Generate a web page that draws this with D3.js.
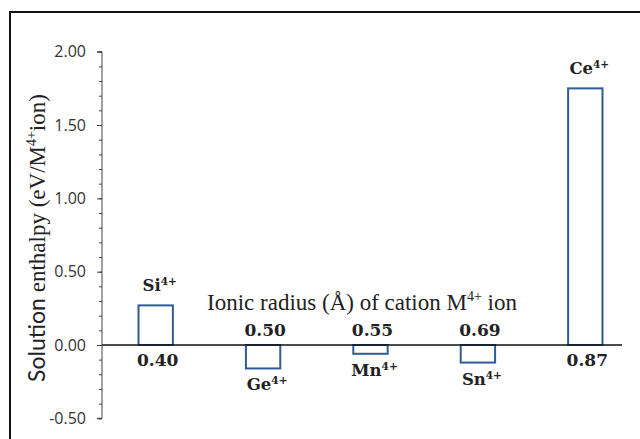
<!DOCTYPE html>
<html><head><meta charset="utf-8">
<script src="https://cdn.jsdelivr.net/npm/d3@7"></script>
<style>body{margin:0;background:#fff}svg{display:block}</style>
</head><body>
<svg id="c" width="640" height="439"></svg>
<script>
const ions = ["Si", "Ge", "Mn", "Sn", "Ce"];
const radii = ["0.40", "0.50", "0.55", "0.69", "0.87"];
const enthalpy = [0.27, -0.16, -0.06, -0.12, 1.75];
const yTicks = [-0.5, 0, 0.5, 1.0, 1.5, 2.0];
const yMinorTicks = d3.range(-0.5, 2.0001, 0.1);
const yTitle = ["Solution ", "enthalpy (eV/M", "4+", "ion)"];
const xTitle = ["Ionic radius (Å) of cation M", "4+", " ion"];

(function () {
const svg = d3.select("#c");
const pLeft = 102, pRight = 639, pTop = 51.7, pBottom = 418.3;
const x = d3.scaleBand().domain(ions).range([pLeft, pRight]).paddingInner(0.68).paddingOuter(0.34);
const y = d3.scaleLinear().domain([-0.5, 2.0]).range([pBottom, pTop]);
const fmt = v => d3.format(".2f")(v).replace("−", "-");

// frame
svg.append("rect").attr("x", 10).attr("y", 12).attr("width", 700).attr("height", 500)
  .attr("fill", "none").attr("stroke", "#111").attr("stroke-width", 2);

// y axis minor ticks
const gy = svg.append("g").attr("transform", `translate(${pLeft},0)`);
gy.call(d3.axisLeft(y).tickValues(yMinorTicks).tickSize(3).tickFormat(""));
gy.select(".domain").remove();
// major ticks + labels
const gy2 = svg.append("g").attr("transform", `translate(${pLeft},0)`)
  .call(d3.axisLeft(y).tickValues(yTicks).tickSize(5).tickPadding(11).tickFormat(fmt));
gy2.select(".domain").attr("d", `M-5,${y(2)}H0V${y(-0.5)}H-5`).attr("stroke", "#444");
svg.selectAll(".tick line").attr("stroke", "#444");
gy2.selectAll("text").attr("font-family", "Open Sans").attr("font-size", 16).attr("fill", "#333");

// bars
const bw = x.bandwidth();
svg.append("g").selectAll("rect").data(ions).join("rect")
  .attr("x", d => x(d)).attr("width", bw)
  .attr("y", (d, i) => y(Math.max(0, enthalpy[i])))
  .attr("height", (d, i) => Math.abs(y(enthalpy[i]) - y(0)))
  .attr("fill", "none").attr("stroke", "#2e5c96").attr("stroke-width", 2);

// zero line
svg.append("line").attr("x1", pLeft).attr("x2", 622).attr("y1", y(0)).attr("y2", y(0))
  .attr("stroke", "#111").attr("stroke-width", 1.5);

// ion labels
const ionG = svg.append("g").attr("font-family", "DejaVu Serif").attr("font-weight", "bold")
  .attr("font-size", 16.5).attr("fill", "#222").attr("text-anchor", "middle");
ions.forEach((d, i) => {
  const v = enthalpy[i];
  const t = ionG.append("text").attr("x", x(d) + bw / 2 + 4)
    .attr("y", v >= 0 ? y(v) - 14 : y(v) + 22);
  t.append("tspan").text(d);
  t.append("tspan").attr("font-size", 10.5).attr("dy", -6).text("4+");
});

// radius labels
const rG = svg.append("g").attr("font-family", "DejaVu Serif").attr("font-weight", "bold")
  .attr("font-size", 17).attr("fill", "#222").attr("text-anchor", "middle");
ions.forEach((d, i) => {
  const v = enthalpy[i];
  rG.append("text").attr("x", x(d) + bw / 2 + 2)
    .attr("y", v >= 0 ? y(0) + 21 : y(0) - 9).text(radii[i]);
});

// x title
const xt = svg.append("text").attr("x", 362).attr("y", 310).attr("text-anchor", "middle")
  .attr("font-family", "Liberation Serif").attr("font-size", 23).attr("fill", "#222");
xt.append("tspan").text(xTitle[0]);
xt.append("tspan").attr("font-size", 14).attr("dy", -9).text(xTitle[1]);
xt.append("tspan").attr("dy", 9).text(xTitle[2]);

// y title
const yt = svg.append("text").attr("transform", "translate(45,238) rotate(-90)")
  .attr("text-anchor", "middle").attr("font-size", 23).attr("fill", "#222");
yt.append("tspan").attr("font-family", "Lato").text(yTitle[0]);
yt.append("tspan").attr("font-family", "Liberation Serif").text(yTitle[1]);
yt.append("tspan").attr("font-family", "Liberation Serif").attr("font-size", 14).attr("dy", -9).text(yTitle[2]);
yt.append("tspan").attr("font-family", "Liberation Serif").attr("dy", 9).text(yTitle[3]);
})();
</script>
</body></html>
